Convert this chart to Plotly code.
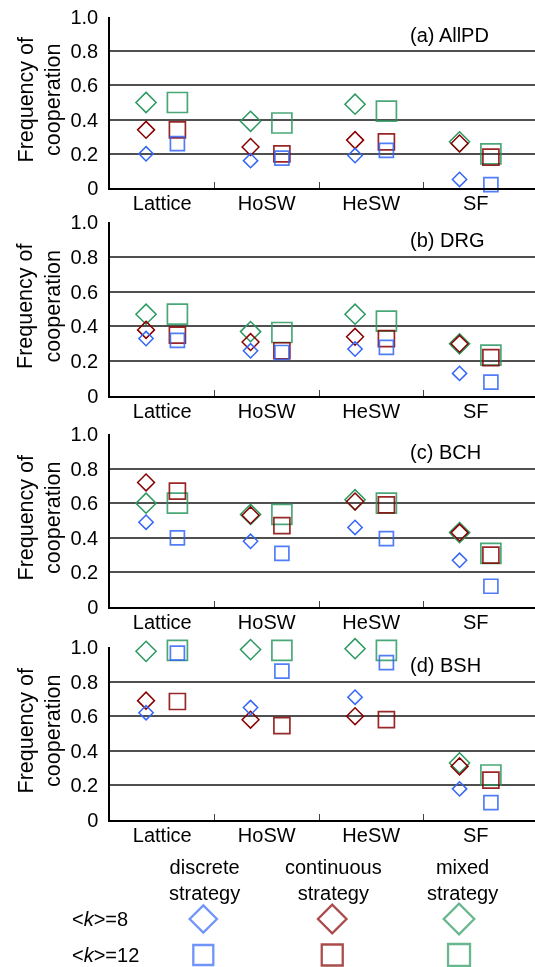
import plotly.graph_objects as go
import numpy as np

categories = ["Lattice", "HoSW", "HeSW", "SF"]
y_ticks = [0, 0.2, 0.4, 0.6, 0.8, 1.0]
y_ticklabels = ["0", "0.2", "0.4", "0.6", "0.8", "1.0"]
panel_titles = ["(a) AllPD", "(b) DRG", "(c) BCH", "(d) BSH"]

# (a) AllPD
a_disc8 = [0.20, 0.16, 0.19, 0.05]
a_cont8 = [0.34, 0.24, 0.28, 0.26]
a_mix8 = [0.50, 0.39, 0.49, 0.27]
a_disc12 = [0.26, 0.175, 0.22, 0.02]
a_cont12 = [0.34, 0.20, 0.27, 0.18]
a_mix12 = [0.50, 0.38, 0.45, 0.20]
# (b) DRG
b_disc8 = [0.33, 0.26, 0.27, 0.13]
b_cont8 = [0.38, 0.31, 0.34, 0.30]
b_mix8 = [0.47, 0.37, 0.47, 0.30]
b_disc12 = [0.32, 0.25, 0.28, 0.08]
b_cont12 = [0.35, 0.26, 0.33, 0.22]
b_mix12 = [0.47, 0.365, 0.43, 0.235]
# (c) BCH
c_disc8 = [0.49, 0.38, 0.46, 0.27]
c_cont8 = [0.72, 0.53, 0.61, 0.43]
c_mix8 = [0.60, 0.535, 0.62, 0.43]
c_disc12 = [0.40, 0.31, 0.395, 0.12]
c_cont12 = [0.67, 0.47, 0.59, 0.30]
c_mix12 = [0.60, 0.535, 0.60, 0.31]
# (d) BSH
d_disc8 = [0.62, 0.65, 0.71, 0.18]
d_cont8 = [0.69, 0.58, 0.60, 0.31]
d_mix8 = [0.975, 0.985, 0.99, 0.33]
d_disc12 = [0.965, 0.86, 0.91, 0.10]
d_cont12 = [0.685, 0.545, 0.58, 0.23]
d_mix12 = [0.98, 0.98, 0.98, 0.26]

panels = [
    (a_disc8, a_cont8, a_mix8, a_disc12, a_cont12, a_mix12),
    (b_disc8, b_cont8, b_mix8, b_disc12, b_cont12, b_mix12),
    (c_disc8, c_cont8, c_mix8, c_disc12, c_cont12, c_mix12),
    (d_disc8, d_cont8, d_mix8, d_disc12, d_cont12, d_mix12),
]

strategy_labels = ["discrete<br>strategy", "continuous<br>strategy", "mixed<br>strategy"]
k_labels = ["&lt;<i>k</i>&gt;=8", "&lt;<i>k</i>&gt;=12"]

BLUE = "#3366f8"
RED = "#880000"
GREEN = "#2a9960"
colors = [BLUE, RED, GREEN]
dia_sizes = [11, 13, 15.5]
sq_sizes = [14, 16, 20]

W, H = 535, 967
FONT = "Liberation Sans, Arial, sans-serif"

# panel vertical extents in pixels (top, bottom)
panel_px = [(17, 188), (222, 396), (434, 607), (647, 820)]
x_left = 110 / W

fig = go.Figure()
xidx = np.arange(len(categories))
dia_off = -0.155
sq_off = 0.145

for p, data in enumerate(panels):
    xa = "x" if p == 0 else f"x{p+1}"
    ya = "y" if p == 0 else f"y{p+1}"
    d8 = data[:3]
    d12 = data[3:]
    order = [2, 1, 0]
    for c in order:
        fig.add_trace(go.Scatter(
            x=xidx + dia_off, y=d8[c], mode="markers", xaxis=xa, yaxis=ya,
            marker=dict(symbol="diamond-open", size=dia_sizes[c], color=colors[c],
                        line=dict(width=1.5, color=colors[c])),
            showlegend=False, cliponaxis=False, hoverinfo="skip"))
    for c in order:
        fig.add_trace(go.Scatter(
            x=xidx + sq_off, y=d12[c], mode="markers", xaxis=xa, yaxis=ya,
            marker=dict(symbol="square-open", size=sq_sizes[c], color=colors[c],
                        line=dict(width=1.7, color=colors[c])),
            opacity=0.85,
            showlegend=False, cliponaxis=False, hoverinfo="skip"))

# legend key drawn on a hidden axis occupying the bottom strip of the page
LEG_TOP = 0.12
leg_cols = [0.380, 0.621, 0.858]
leg_rows = [1 - 919 / H, 1 - 955 / H]
fig.add_trace(go.Scatter(
    x=leg_cols, y=[leg_rows[0]] * 3, mode="markers", xaxis="x5", yaxis="y5",
    marker=dict(symbol="diamond-open", size=[21, 22, 23.5], color=colors,
                line=dict(width=2.3, color=colors)),
    showlegend=False, cliponaxis=False, hoverinfo="skip"))
fig.add_trace(go.Scatter(
    x=leg_cols, y=[leg_rows[1]] * 3, mode="markers", xaxis="x5", yaxis="y5",
    marker=dict(symbol="square-open", size=[20, 21, 22], color=colors,
                line=dict(width=2.3, color=colors)),
    showlegend=False, cliponaxis=False, hoverinfo="skip"))

layout = dict(
    width=W, height=H, margin=dict(l=0, r=0, t=0, b=0, autoexpand=False),
    paper_bgcolor="white", plot_bgcolor="rgba(0,0,0,0)",
    font=dict(family=FONT, size=20, color="black"),
    showlegend=False,
)

annotations = []
for p, (top, bot) in enumerate(panel_px):
    xk = "xaxis" if p == 0 else f"xaxis{p+1}"
    yk = "yaxis" if p == 0 else f"yaxis{p+1}"
    ya = "y" if p == 0 else f"y{p+1}"
    xa = "x" if p == 0 else f"x{p+1}"
    layout[xk] = dict(
        domain=[x_left, 1.0], range=[-0.5, 3.567], anchor=ya, automargin=False,
        tickmode="array", tickvals=list(xidx), ticktext=categories,
        ticks="", showgrid=False, zeroline=False,
        showline=True, linecolor="black", linewidth=1.5,
        tickfont=dict(size=20, family=FONT), ticklabelstandoff=-4,
        minor=dict(tickmode="array", tickvals=[0.5, 1.5, 2.5], ticks="inside",
                   ticklen=6, tickcolor="#444", tickwidth=1, showgrid=False),
        fixedrange=True,
    )
    layout[yk] = dict(
        domain=[1 - bot / H, 1 - top / H], range=[0, 1.0], anchor=xa,
        automargin=False,
        tickmode="array", tickvals=y_ticks, ticktext=y_ticklabels,
        ticks="", showgrid=True, gridcolor="#505050", gridwidth=1.5,
        zeroline=False, showline=True, linecolor="black", linewidth=1.5,
        tickfont=dict(size=20, family=FONT), ticklabelstandoff=6,
        fixedrange=True,
    )
    annotations.append(dict(
        text=panel_titles[p], xref="paper", yref=ya, x=408 / W, y=0.895,
        xanchor="left", yanchor="middle", showarrow=False,
        font=dict(size=20, family=FONT)))
    annotations.append(dict(
        text="Frequency of<br>cooperation", xref="paper", yref="paper",
        x=39 / W, y=1 - ((top + bot) / 2 - 3) / H, textangle=-90,
        xanchor="center", yanchor="middle", showarrow=False,
        font=dict(size=21.5, family=FONT)))

layout["xaxis5"] = dict(domain=[0, 1], range=[0, 1], anchor="y5", visible=False,
                        fixedrange=True, automargin=False)
layout["yaxis5"] = dict(domain=[0, LEG_TOP], range=[0, LEG_TOP], anchor="x5",
                        visible=False, fixedrange=True, automargin=False)

header_y = 1 - 879.5 / H
for i, lab in enumerate(strategy_labels):
    annotations.append(dict(
        text=lab, xref="paper", yref="paper", x=[204 / W, 333 / W, 462 / W][i],
        y=header_y, xanchor="center", yanchor="middle", showarrow=False,
        font=dict(size=20, family=FONT)))
for r, lab in enumerate(k_labels):
    annotations.append(dict(
        text=lab, xref="paper", yref="paper", x=70 / W, y=leg_rows[r],
        xanchor="left", yanchor="middle", showarrow=False,
        font=dict(size=20, family=FONT)))

layout["annotations"] = annotations
fig.update_layout(**layout)
fig.write_html("out.html")
